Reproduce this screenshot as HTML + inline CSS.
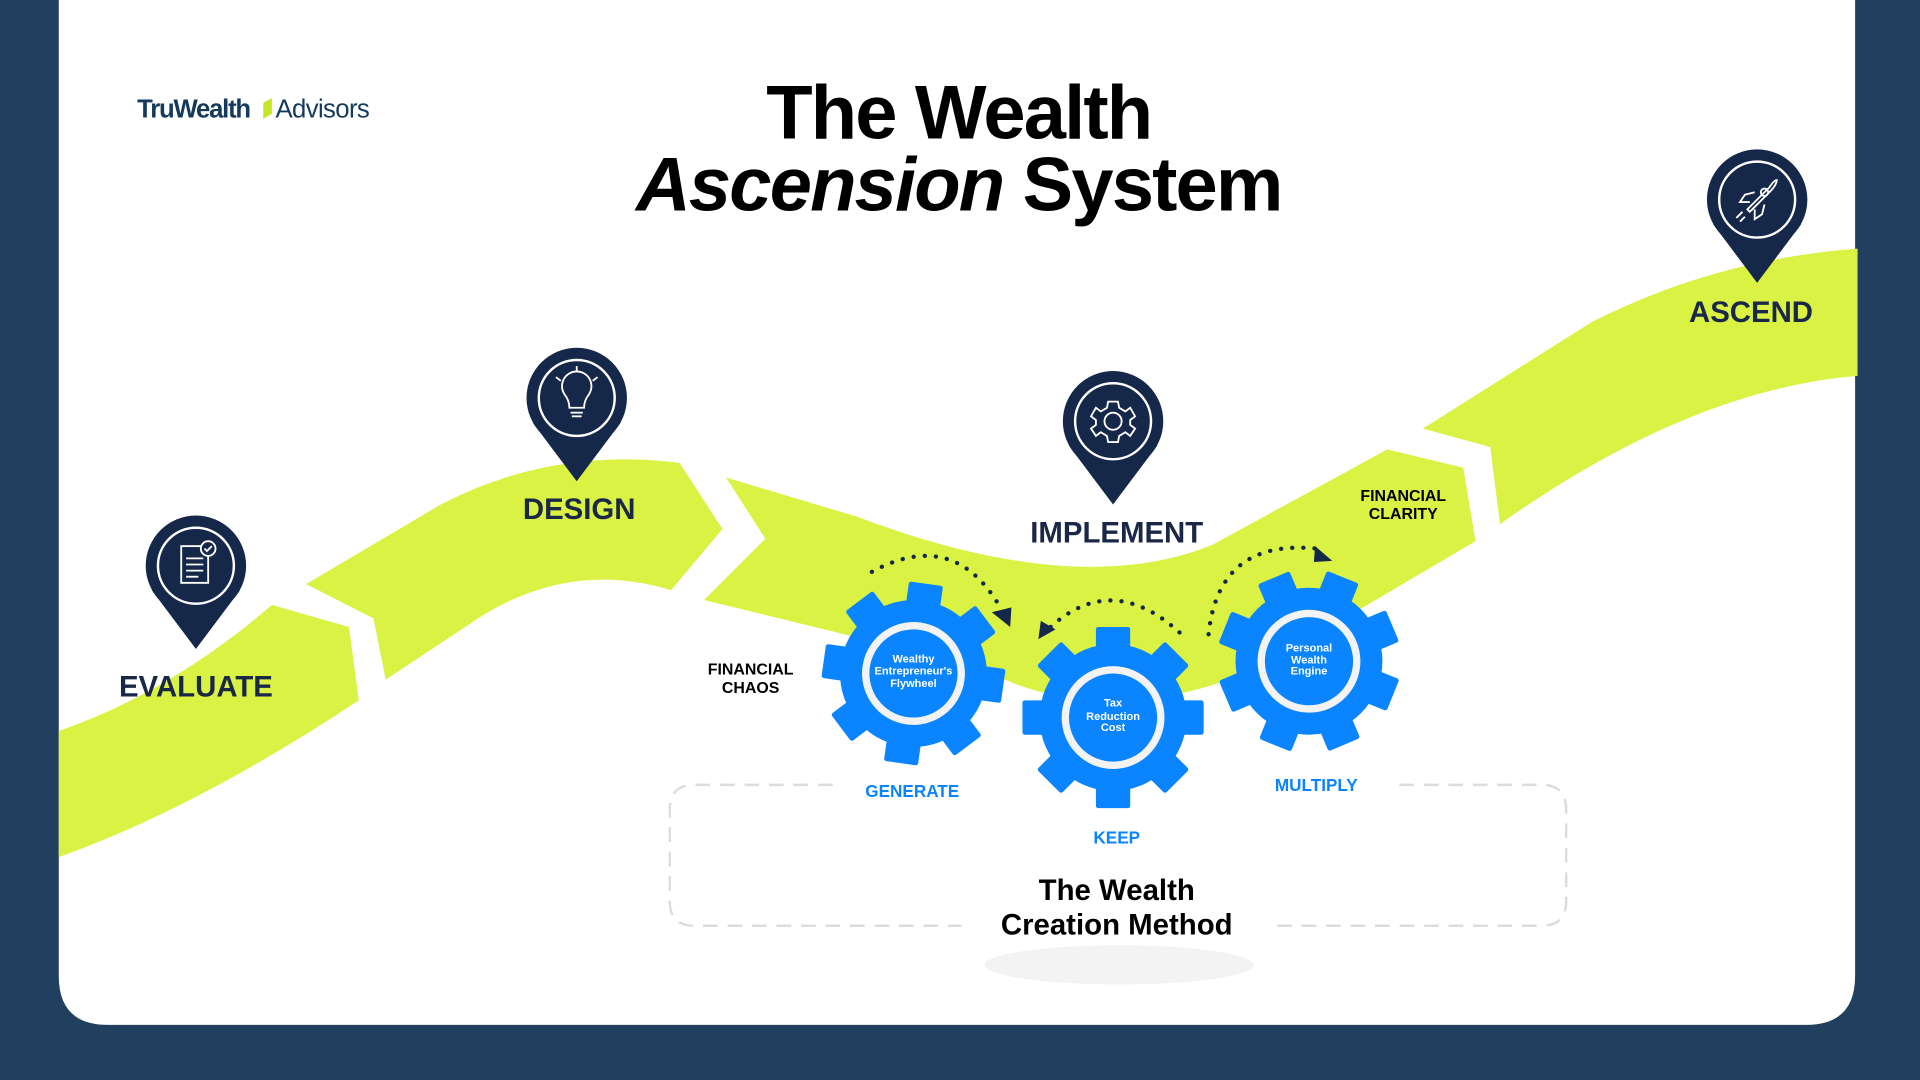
<!DOCTYPE html>
<html><head><meta charset="utf-8"><style>
html,body{margin:0;padding:0;background:#213f5f;}
svg{display:block}
text{font-family:"Liberation Sans",sans-serif;}
</style></head><body>
<svg width="1920" height="1080" viewBox="0 0 1568 882" xmlns="http://www.w3.org/2000/svg">
<defs>
<g id="gear">
<circle r="60" fill="#0a84ff"/>
<g fill="#0a84ff">
<rect x="-14" y="-74" width="28" height="30" rx="2"/>
<rect x="-14" y="-74" width="28" height="30" rx="2" transform="rotate(45)"/>
<rect x="-14" y="-74" width="28" height="30" rx="2" transform="rotate(90)"/>
<rect x="-14" y="-74" width="28" height="30" rx="2" transform="rotate(135)"/>
<rect x="-14" y="-74" width="28" height="30" rx="2" transform="rotate(180)"/>
<rect x="-14" y="-74" width="28" height="30" rx="2" transform="rotate(225)"/>
<rect x="-14" y="-74" width="28" height="30" rx="2" transform="rotate(270)"/>
<rect x="-14" y="-74" width="28" height="30" rx="2" transform="rotate(315)"/>
</g>
<circle r="42" fill="#f3f3f3"/>
<circle r="36" fill="#0a84ff"/>
</g>
<g id="pin">
<path d="M-36,20 L0,68 L36,20 Z" fill="#16284a"/>
<circle r="41" fill="#16284a"/>
<circle r="31" fill="none" stroke="#fff" stroke-width="2"/>
</g>
</defs>
<rect width="1568" height="882" fill="#213f5f"/>
<path d="M48,0 H1515 V797 Q1515,837 1475,837 H88 Q48,837 48,797 Z" fill="#fff"/>

<!-- ribbon -->
<g fill="#d9f243">
<path d="M48,597 Q140,565 222,494 L285,512 L293,572 Q160,660 48,700 Z"/>
<path d="M250,477 L360,412 Q450,365 555,378 L590,432 L548,482 Q460,455 380,512 L315,555 L305,505 Z"/>
<path d="M593,390 L700,422 Q880,490 990,445 L1133,367 L1195,382 L1205,442 L1030,545 Q900,600 800,545 L575,490 L625,440 Z"/>
<path d="M1162,350 L1300,263 Q1400,212 1517,203 L1517,307 Q1380,318 1225,428 L1217,365 Z"/>
</g>

<!-- logo -->
<text x="112" y="96" font-size="21" font-weight="700" fill="#163a5c" letter-spacing="-1">TruWealth</text>
<path d="M215,84 L222,80 L222,93 L215,97 Z" fill="#c6e42a"/>
<text x="225" y="96" font-size="21" fill="#163a5c" letter-spacing="-0.5">Advisors</text>

<!-- title -->
<text x="783" y="113" text-anchor="middle" font-size="62" font-weight="700" fill="#000" letter-spacing="-1.5">The Wealth</text>
<text x="783" y="172" text-anchor="middle" font-size="62" font-weight="700" fill="#000" letter-spacing="-1.5"><tspan font-style="italic">Ascension</tspan> System</text>

<!-- pins -->
<g transform="translate(160,462)"><use href="#pin"/>
<g fill="none" stroke="#fff" stroke-width="1.5"><rect x="-12" y="-16" width="22" height="30"/><line x1="-8" y1="-6" x2="6" y2="-6"/><line x1="-8" y1="-1" x2="6" y2="-1"/><line x1="-8" y1="4" x2="6" y2="4"/><line x1="-8" y1="9" x2="2" y2="9"/><circle cx="10" cy="-14" r="6" fill="#16284a"/><path d="M7,-14 L9,-12 L13,-16"/></g></g>
<g transform="translate(471,325)"><use href="#pin"/>
<g fill="none" stroke="#fff" stroke-width="1.5"><path d="M-6,8 Q-6,2 -10,-3 A12,12 0 1 1 10,-3 Q6,2 6,8 Z"/><line x1="-5" y1="12" x2="5" y2="12"/><line x1="-4" y1="15" x2="4" y2="15"/><line x1="0" y1="-26" x2="0" y2="-21"/><line x1="-17" y1="-17" x2="-13" y2="-14"/><line x1="17" y1="-17" x2="13" y2="-14"/></g></g>
<g transform="translate(909,344)"><use href="#pin"/>
<g fill="none" stroke="#fff" stroke-width="1.5"><circle r="7"/><path d="M-4,-16 L4,-16 L5,-11 L10,-8 L14,-11 L18,-4 L14,-1 L14,3 L18,6 L14,12 L10,9 L5,12 L4,17 L-4,17 L-5,12 L-10,9 L-14,12 L-18,6 L-14,3 L-14,-1 L-18,-4 L-14,-11 L-10,-8 L-5,-11 Z"/></g></g>
<g transform="translate(1435,163)"><use href="#pin"/>
<g fill="none" stroke="#fff" stroke-width="1.5"><path d="M-8,8 L10,-10 Q14,-16 16,-16 Q16,-12 10,-6 L-6,10 Z"/><circle cx="6" cy="-6" r="3"/><path d="M-2,-6 L-10,-4 L-14,2 L-6,2"/><path d="M6,4 L4,12 L-2,16 L-2,8"/><line x1="-12" y1="10" x2="-17" y2="15"/><line x1="-10" y1="14" x2="-14" y2="18"/></g></g>

<g font-weight="700" fill="#1a2747" text-anchor="middle">
<text x="160" y="569" font-size="24">EVALUATE</text>
<text x="473" y="424" font-size="24">DESIGN</text>
<text x="912" y="443" font-size="24">IMPLEMENT</text>
<text x="1430" y="263" font-size="24">ASCEND</text>
<text x="613" y="551" font-size="13" fill="#000">FINANCIAL</text>
<text x="613" y="566" font-size="13" fill="#000">CHAOS</text>
<text x="1146" y="409" font-size="13" fill="#000">FINANCIAL</text>
<text x="1146" y="424" font-size="13" fill="#000">CLARITY</text>
</g>

<!-- dashed box -->
<path d="M680,641 H567 Q547,641 547,661 V736 Q547,756 567,756 H785 M1043,756 H1259 Q1279,756 1279,736 V661 Q1279,641 1259,641 H1140" fill="none" stroke="#dcdcdc" stroke-width="2" stroke-dasharray="12,8"/>
<ellipse cx="914" cy="788" rx="110" ry="16" fill="#f3f3f3"/>
<text x="912" y="735" text-anchor="middle" font-size="24" font-weight="700" fill="#000">The Wealth</text>
<text x="912" y="763" text-anchor="middle" font-size="24" font-weight="700" fill="#000">Creation Method</text>

<!-- gears -->
<g transform="translate(746,550) rotate(8)"><use href="#gear"/></g>
<g transform="translate(909,586)"><use href="#gear"/></g>
<g transform="translate(1069,540) rotate(22)"><use href="#gear"/></g>
<g fill="#fff" font-weight="700" font-size="9" text-anchor="middle">
<text x="746" y="541">Wealthy</text><text x="746" y="551">Entrepreneur's</text><text x="746" y="561">Flywheel</text>
<text x="909" y="577">Tax</text><text x="909" y="588">Reduction</text><text x="909" y="597">Cost</text>
<text x="1069" y="532">Personal</text><text x="1069" y="542">Wealth</text><text x="1069" y="551">Engine</text>
</g>
<g font-weight="700" font-size="14" fill="#0a84ff" text-anchor="middle">
<text x="745" y="651">GENERATE</text>
<text x="912" y="689">KEEP</text>
<text x="1075" y="646">MULTIPLY</text>
</g>

<!-- dotted arcs -->
<g fill="none" stroke="#16284a" stroke-width="3.5" stroke-linecap="round" stroke-dasharray="0.1,9">
<path d="M712,467 Q780,430 818,498"/>
<path d="M858,512 Q910,465 967,520"/>
<path d="M987,518 Q995,440 1075,448"/>
</g>
<g fill="#16284a">
<path d="M810,500 L826,496 L825,512 Z"/>
<path d="M850,507 L862,514 L848,522 Z"/>
<path d="M1074,446 L1088,458 L1073,459 Z"/>
</g>
</svg>
</body></html>
